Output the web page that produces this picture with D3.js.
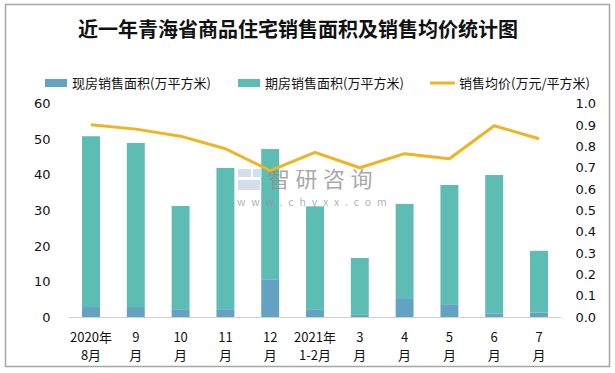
<!DOCTYPE html>
<head>
  <meta charset="utf-8">
  <title>青海省商品住宅销售</title>
  <script src="https://cdn.jsdelivr.net/npm/d3@7/dist/d3.min.js"></script>
</head>

<style>
  body { margin: 0; background: #fff; }
  text { font-family: "Noto Sans CJK SC", "DejaVu Sans", sans-serif; fill: #111; }
  .title { font-weight: bold; font-size: 20px; }
  .tick-label { font-size: 13px; font-family: "DejaVu Sans", "Noto Sans CJK SC", sans-serif; }
  .x-label { font-size: 13px; }
  .legend-label { font-size: 13px; }
</style>

<body>
  <svg id="chart"></svg>
</body>

<script>

var width = 615,
    height = 373,
    plot = {left: 68.6, right: 561.4, top: 103.5, bottom: 317};

// data
var months = ['2020年|8月', '9|月', '10|月', '11|月', '12|月', '2021年|1-2月', '3|月', '4|月', '5|月', '6|月', '7|月'];
var existing = [2.8, 2.8, 2.0, 2.2, 10.6, 2.0, 0.6, 5.3, 3.6, 0.9, 1.2];
var totals = [50.8, 48.9, 31.2, 41.9, 47.2, 31.1, 16.6, 31.8, 37.1, 39.9, 18.6];
var forward = totals.map(function(t, i) { return +(t - existing[i]).toFixed(1); });
var price = [0.90, 0.88, 0.847, 0.788, 0.686, 0.771, 0.699, 0.765, 0.741, 0.896, 0.835];
var leftTicks = [0, 10, 20, 30, 40, 50, 60];
var rightTicks = [0, 0.1, 0.2, 0.3, 0.4, 0.5, 0.6, 0.7, 0.8, 0.9, 1.0];
var seriesNames = ['现房销售面积(万平方米)', '期房销售面积(万平方米)', '销售均价(万元/平方米)'];

var colours = {existing: '#64a2c4', forward: '#5dbdb5', price: '#f0b323'};

var svg = d3.select('#chart')
  .attr('width', width)
  .attr('height', height);

// outer frame
svg.append('rect')
  .attr('x', 5.5).attr('y', 4.5)
  .attr('width', 604).attr('height', 362)
  .attr('fill', 'none')
  .attr('stroke', '#a6a6a6')
  .attr('stroke-width', 1.5);

svg.append('text')
  .attr('class', 'title')
  .attr('x', 298)
  .attr('y', 37)
  .attr('text-anchor', 'middle')
  .text('近一年青海省商品住宅销售面积及销售均价统计图');

var x = d3.scaleBand()
  .domain(months)
  .range([plot.left, plot.right])
  .paddingInner(0.6)
  .paddingOuter(0.3);

var yL = d3.scaleLinear().domain([0, 60]).range([plot.bottom, plot.top]);
var yR = d3.scaleLinear().domain([0, 1]).range([plot.bottom, plot.top]);

// axes (labels only)
var leftAxis = svg.append('g')
  .attr('transform', 'translate(' + (plot.left - 18) + ',0)')
  .call(d3.axisLeft(yL).tickValues(leftTicks).tickSize(0).tickPadding(0));
leftAxis.select('.domain').remove();
leftAxis.selectAll('text').attr('class', 'tick-label').attr('fill', '#111');

var rightAxis = svg.append('g')
  .attr('transform', 'translate(' + (plot.right + 14) + ',0)')
  .call(d3.axisRight(yR).tickValues(rightTicks).tickFormat(d3.format('.1f')).tickSize(0).tickPadding(0));
rightAxis.select('.domain').remove();
rightAxis.selectAll('text').attr('class', 'tick-label').attr('fill', '#111');

// bars
var rows = months.map(function(m, i) { return {m: m, e: existing[i], f: forward[i], p: price[i]}; });

var bars = svg.append('g').selectAll('g.bar')
  .data(rows)
  .enter()
  .append('g')
  .attr('class', 'bar');

bars.append('rect')
  .attr('x', function(d) { return x(d.m); })
  .attr('width', x.bandwidth())
  .attr('y', function(d) { return yL(d.e); })
  .attr('height', function(d) { return yL(0) - yL(d.e); })
  .attr('fill', colours.existing);

bars.append('rect')
  .attr('x', function(d) { return x(d.m); })
  .attr('width', x.bandwidth())
  .attr('y', function(d) { return yL(d.e + d.f); })
  .attr('height', function(d) { return yL(d.e) - yL(d.e + d.f); })
  .attr('fill', colours.forward);

// baseline
svg.append('line')
  .attr('x1', plot.left).attr('x2', plot.right)
  .attr('y1', yL(0) + 0.5).attr('y2', yL(0) + 0.5)
  .attr('stroke', '#d0d0d0');

// watermark
var wm = svg.append('g').attr('opacity', 0.75);
wm.append('rect').attr('x', 238).attr('y', 169).attr('width', 13).attr('height', 8).attr('fill', '#c5d3e6');
wm.append('rect').attr('x', 238).attr('y', 180).attr('width', 22).attr('height', 10).attr('fill', '#c5d3e6');
wm.append('rect').attr('x', 253).attr('y', 169).attr('width', 9).attr('height', 8).attr('fill', '#b8dcef');
wm.append('text')
  .attr('x', 268).attr('y', 187)
  .attr('font-size', 22)
  .attr('letter-spacing', 5.5)
  .style('fill', '#8c8c8c')
  .text('智研咨询');
wm.append('text')
  .attr('x', 237).attr('y', 206)
  .attr('font-size', 10.5)
  .attr('letter-spacing', 5.9)
  .style('fill', '#9a9a9a')
  .text('www.chyxx.com');

// price line
var line = d3.line()
  .x(function(d) { return x(d.m) + x.bandwidth() / 2; })
  .y(function(d) { return yR(d.p); });

svg.append('path')
  .datum(rows)
  .attr('d', line)
  .attr('fill', 'none')
  .attr('stroke', colours.price)
  .attr('stroke-width', 3)
  .attr('stroke-linejoin', 'round');

// x labels
var xl = svg.append('g').selectAll('text.x-label')
  .data(months)
  .enter()
  .append('text')
  .attr('class', 'x-label')
  .attr('text-anchor', 'middle')
  .attr('x', function(d) { return x(d) + x.bandwidth() / 2; });

xl.append('tspan')
  .attr('x', function(d) { return x(d) + x.bandwidth() / 2; })
  .attr('y', 342)
  .text(function(d) { return d.split('|')[0]; });
xl.append('tspan')
  .attr('x', function(d) { return x(d) + x.bandwidth() / 2; })
  .attr('y', 360)
  .text(function(d) { return d.split('|')[1]; });

// legend
var legendX = [45, 238, 430];
var legend = svg.append('g').selectAll('g.legend')
  .data(seriesNames)
  .enter()
  .append('g')
  .attr('transform', function(d, i) { return 'translate(' + legendX[i] + ',83)'; });

legend.append('rect')
  .attr('x', 0)
  .attr('y', function(d, i) { return i < 2 ? -4 : -1.5; })
  .attr('width', function(d, i) { return i < 2 ? 22 : 25; })
  .attr('height', function(d, i) { return i < 2 ? 8 : 3; })
  .attr('fill', function(d, i) { return [colours.existing, colours.forward, colours.price][i]; });

legend.append('text')
  .attr('class', 'legend-label')
  .attr('x', function(d, i) { return i < 2 ? 27 : 29; })
  .attr('y', 5)
  .text(function(d) { return d; });

</script>
